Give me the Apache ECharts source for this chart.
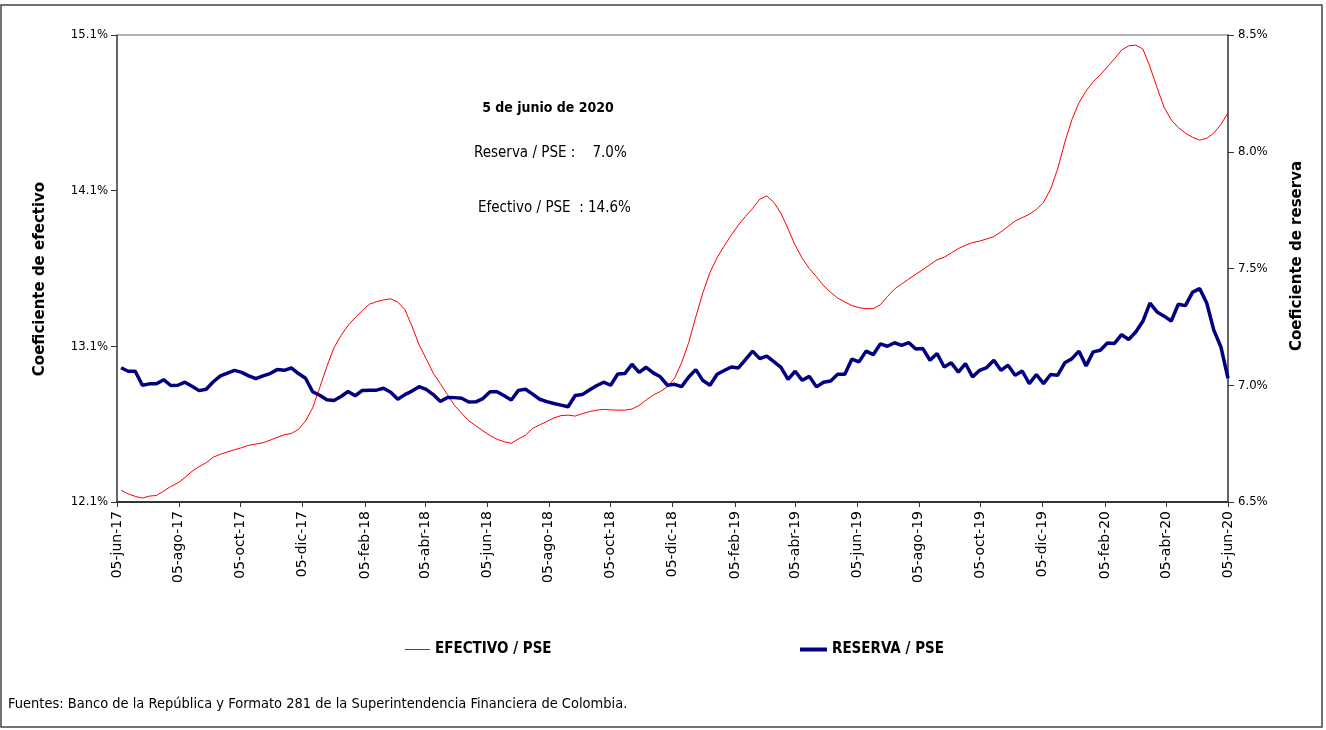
<!DOCTYPE html>
<html><head><meta charset="utf-8">
<script src="https://cdn.jsdelivr.net/npm/echarts@6/dist/echarts.min.js"></script>
<style>html,body{margin:0;padding:0;background:#fff}#c{width:1326px;height:730px}</style>
</head><body><div id="c"></div>
<script>
// ---- data ----
const firstWeek = '2017-06-09';   // weekly observations, last one 05-jun-2020
const axisStart = '2017-06-05';
const axisEnd = '2020-06-05';
const tickDates = ['2017-06-05','2017-08-05','2017-10-05','2017-12-05','2018-02-05','2018-04-05','2018-06-05','2018-08-05','2018-10-05','2018-12-05','2019-02-05','2019-04-05','2019-06-05','2019-08-05','2019-10-05','2019-12-05','2020-02-05','2020-04-05','2020-06-05'];
const tickLabels = ['05-jun-17','05-ago-17','05-oct-17','05-dic-17','05-feb-18','05-abr-18','05-jun-18','05-ago-18','05-oct-18','05-dic-18','05-feb-19','05-abr-19','05-jun-19','05-ago-19','05-oct-19','05-dic-19','05-feb-20','05-abr-20','05-jun-20'];
const efectivo = [
12.175,12.152,12.136,12.125,12.138,12.142,12.17,12.2,12.222,12.257,
12.297,12.327,12.353,12.388,12.407,12.422,12.436,12.449,12.464,12.472,
12.481,12.497,12.515,12.532,12.54,12.566,12.62,12.705,12.835,12.97,
13.09,13.17,13.235,13.285,13.33,13.37,13.387,13.398,13.405,13.385,
13.335,13.23,13.11,13.02,12.927,12.86,12.79,12.72,12.67,12.622,
12.59,12.557,12.527,12.503,12.487,12.477,12.505,12.53,12.573,12.595,
12.618,12.64,12.655,12.658,12.652,12.668,12.68,12.69,12.695,12.692,
12.69,12.69,12.697,12.72,12.755,12.787,12.81,12.84,12.895,12.995,
13.125,13.29,13.445,13.575,13.67,13.745,13.815,13.879,13.935,13.985,
14.045,14.066,14.025,13.955,13.855,13.75,13.665,13.6,13.547,13.49,
13.447,13.41,13.385,13.362,13.348,13.342,13.342,13.367,13.42,13.468,
13.5,13.532,13.563,13.593,13.625,13.656,13.672,13.7,13.728,13.75,
13.767,13.776,13.79,13.805,13.835,13.87,13.905,13.927,13.948,13.98,
14.025,14.11,14.24,14.41,14.556,14.665,14.74,14.8,14.845,14.895,
14.947,15.003,15.03,15.035,15.01,14.896,14.762,14.635,14.555,14.505,
14.47,14.443,14.425,14.436,14.47,14.525,14.6];
const reserva = [
7.075,7.06,7.06,7.0,7.006,7.006,7.024,6.999,7.0,7.013,
6.996,6.977,6.983,7.015,7.04,7.052,7.064,7.055,7.04,7.028,
7.04,7.05,7.067,7.064,7.074,7.05,7.03,6.972,6.957,6.938,
6.935,6.952,6.973,6.955,6.978,6.979,6.979,6.987,6.97,6.94,
6.96,6.975,6.994,6.982,6.96,6.93,6.948,6.947,6.944,6.928,
6.929,6.943,6.972,6.972,6.955,6.937,6.978,6.983,6.962,6.94,
6.93,6.922,6.915,6.908,6.956,6.96,6.98,6.998,7.013,7.0,
7.048,7.05,7.09,7.055,7.077,7.053,7.036,7.0,7.004,6.994,
7.035,7.067,7.02,7.0,7.047,7.063,7.078,7.074,7.11,7.146,
7.114,7.125,7.101,7.077,7.025,7.06,7.021,7.038,6.993,7.013,
7.018,7.047,7.047,7.112,7.1,7.146,7.131,7.177,7.167,7.182,
7.171,7.183,7.155,7.157,7.107,7.136,7.078,7.096,7.056,7.093,
7.036,7.064,7.076,7.107,7.064,7.086,7.043,7.061,7.007,7.046,
7.007,7.046,7.043,7.096,7.114,7.146,7.083,7.143,7.15,7.181,
7.179,7.217,7.196,7.228,7.274,7.352,7.314,7.296,7.275,7.347,
7.341,7.398,7.414,7.352,7.236,7.164,7.03];
const leftTicks = {min: 12.1, max: 15.1, interval: 1.0};
const rightTicks = {min: 6.5, max: 8.5, interval: 0.5};

// ---- build ----
const ts = s => Date.parse(s + 'T00:00:00Z');
const DAY = 86400000;
const t0 = ts(firstWeek);
const dates = efectivo.map((_, i) => t0 + i * 7 * DAY);
const tickValues = tickDates.map(ts);
const NARROW = "'Liberation Sans Narrow','Arial Narrow','DejaVu Sans Condensed',sans-serif";
const WIDE = "'DejaVu Sans',sans-serif";

const chart = echarts.init(document.getElementById('c'), null, {renderer: 'canvas'});
chart.setOption({
  backgroundColor: '#fff',
  animation: false,
  grid: {left: 117, right: 98, top: 35, bottom: 228, containLabel: false},
  xAxis: {
    type: 'value', min: ts(axisStart), max: ts(axisEnd),
    splitLine: {show: false},
    axisLine: {onZero: false, lineStyle: {color: '#333', width: 2}},
    axisTick: {show: true, length: 5, customValues: tickValues, lineStyle: {color: '#333', width: 1}},
    axisLabel: {
      customValues: tickValues, rotate: 90, margin: 9,
      fontFamily: WIDE, fontSize: 14, color: '#000',
      formatter: v => { const i = tickValues.indexOf(v); return i >= 0 ? tickLabels[i] : ''; }
    }
  },
  yAxis: [
    {type: 'value', position: 'left', min: leftTicks.min, max: leftTicks.max, interval: leftTicks.interval,
     splitLine: {show: false},
     axisLine: {show: true, lineStyle: {color: '#333', width: 1.5}},
     axisTick: {show: true, length: 6, lineStyle: {color: '#333'}},
     axisLabel: {fontFamily: NARROW, fontSize: 13, color: '#000', margin: 9, formatter: v => v.toFixed(1) + '%'}},
    {type: 'value', position: 'right', min: rightTicks.min, max: rightTicks.max, interval: rightTicks.interval,
     splitLine: {show: false},
     axisLine: {show: true, lineStyle: {color: '#333', width: 1.5}},
     axisTick: {show: true, length: 6, lineStyle: {color: '#333'}},
     axisLabel: {fontFamily: NARROW, fontSize: 13, color: '#000', margin: 10, formatter: v => v.toFixed(1) + '%'}}
  ],
  legend: [
    {data: ['EFECTIVO / PSE'], left: 400, top: 637, icon: 'rect', itemWidth: 25, itemHeight: 1,
     textStyle: {fontFamily: NARROW, fontWeight: 'bold', fontSize: 15, color: '#000'}},
    {data: ['RESERVA / PSE'], left: 795, top: 637, icon: 'rect', itemWidth: 27, itemHeight: 4,
     textStyle: {fontFamily: NARROW, fontWeight: 'bold', fontSize: 15, color: '#000'}}
  ],
  series: [
    {name: 'EFECTIVO / PSE', type: 'line', yAxisIndex: 0, symbol: 'none', smooth: false,
     lineStyle: {color: '#ff0000', width: 1}, itemStyle: {color: '#ff0000'},
     data: dates.map((d, i) => [d, efectivo[i]])},
    {name: 'RESERVA / PSE', type: 'line', yAxisIndex: 1, symbol: 'none', smooth: false, z: 3,
     lineStyle: {color: '#000080', width: 3.5}, itemStyle: {color: '#000080'},
     data: dates.map((d, i) => [d, reserva[i]])}
  ],
  graphic: [
    {type: 'rect', silent: true, shape: {x: 1, y: 5, width: 1321, height: 722},
     style: {fill: 'none', stroke: '#444', lineWidth: 1.5}},
    {type: 'line', silent: true, shape: {x1: 117, y1: 35, x2: 1228, y2: 35},
     style: {stroke: '#999', lineWidth: 1.5}},
    {type: 'text', x: 40, y: 279, rotation: Math.PI / 2,
     style: {text: 'Coeficiente de efectivo', font: "bold 15px 'DejaVu Sans',sans-serif", fill: '#000', align: 'center', verticalAlign: 'middle'}},
    {type: 'text', x: 1297, y: 256, rotation: Math.PI / 2,
     style: {text: 'Coeficiente de reserva', font: "bold 15px 'DejaVu Sans',sans-serif", fill: '#000', align: 'center', verticalAlign: 'middle'}},
    {type: 'text', x: 548, y: 108,
     style: {text: '5 de junio de 2020', font: "bold 14px " + NARROW, fill: '#000', align: 'center', verticalAlign: 'middle'}},
    {type: 'text', x: 474, y: 153,
     style: {text: 'Reserva / PSE :    7.0%', font: "15px " + NARROW, fill: '#000', align: 'left', verticalAlign: 'middle'}},
    {type: 'text', x: 478, y: 208,
     style: {text: 'Efectivo / PSE  : 14.6%', font: "15px " + NARROW, fill: '#000', align: 'left', verticalAlign: 'middle'}},
    {type: 'text', x: 8, y: 704,
     style: {text: 'Fuentes: Banco de la República y Formato 281 de la Superintendencia Financiera de Colombia.', font: "14.5px " + NARROW, fill: '#000', align: 'left', verticalAlign: 'middle'}}
  ]
});
</script>
</body></html>
